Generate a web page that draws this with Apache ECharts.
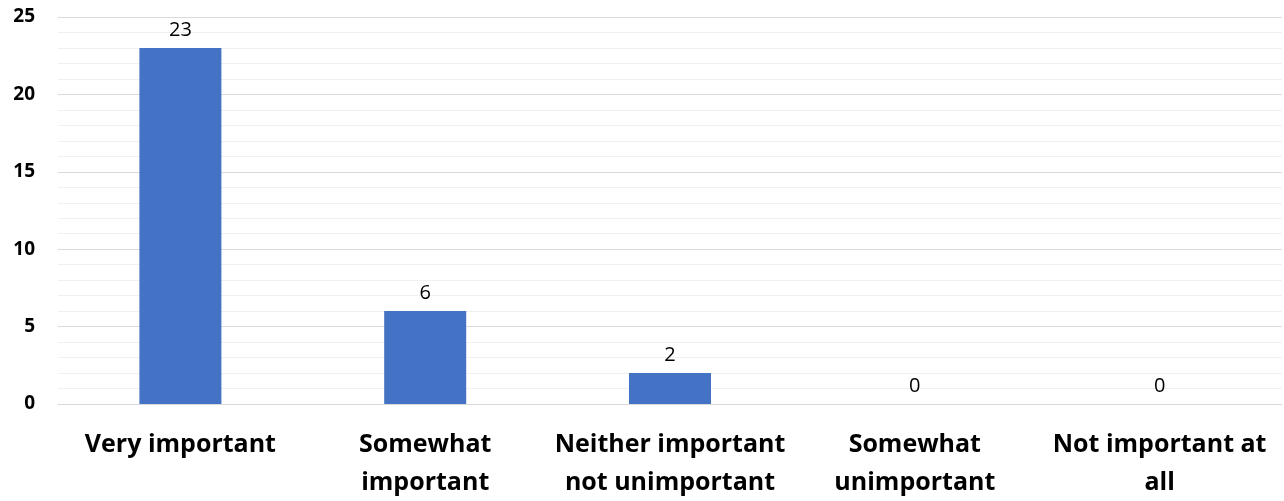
<!DOCTYPE html>
<html>
<head>
<meta charset="utf-8">
<style>
  html, body { margin: 0; padding: 0; background: #ffffff; }
  #chart { width: 1284px; height: 501px; }
</style>
<script src="https://cdn.jsdelivr.net/npm/echarts@6/dist/echarts.min.js"></script>
</head>
<body>
<div id="chart"></div>
<script>
// Survey responses by importance rating
const categories = [
  'Very important',
  'Somewhat\nimportant',
  'Neither important\nnot unimportant',
  'Somewhat\nunimportant',
  'Not important at\nall'
];
const counts = [23, 6, 2, 0, 0];
const yTicks = [0, 5, 10, 15, 20, 25];

const FONT = '"Open Sans", Lato, sans-serif';

const chart = echarts.init(document.getElementById('chart'));
chart.setOption({
  animation: false,
  grid: { left: 58, right: 2, top: 17, bottom: 97, outerBoundsMode: 'none', containLabel: false },
  xAxis: {
    type: 'category',
    data: categories,
    axisLine: { show: true, lineStyle: { color: '#d9d9d9', width: 1 } },
    axisTick: { show: false },
    axisLabel: {
      interval: 0,
      margin: 22,
      fontFamily: FONT,
      fontWeight: 'bold',
      fontSize: 25,
      lineHeight: 38,
      color: '#000000'
    }
  },
  yAxis: {
    type: 'value',
    min: yTicks[0],
    max: yTicks[yTicks.length - 1],
    interval: 5,
    axisLine: { show: false },
    axisTick: { show: false },
    axisLabel: {
      margin: 23,
      fontFamily: FONT,
      fontWeight: 'bold',
      fontSize: 19,
      color: '#000000'
    },
    splitLine: { show: true, lineStyle: { color: '#d9d9d9', width: 1 } },
    minorTick: { show: false, splitNumber: 5 },
    minorSplitLine: { show: true, lineStyle: { color: '#f0f0f0', width: 1 } }
  },
  series: [{
    type: 'bar',
    data: counts,
    barWidth: '33.5%',
    itemStyle: { color: '#4472c4' },
    label: {
      show: true,
      position: 'top',
      distance: 8,
      fontFamily: FONT,
      fontSize: 20,
      color: '#000000'
    }
  }]
});
</script>
</body>
</html>
